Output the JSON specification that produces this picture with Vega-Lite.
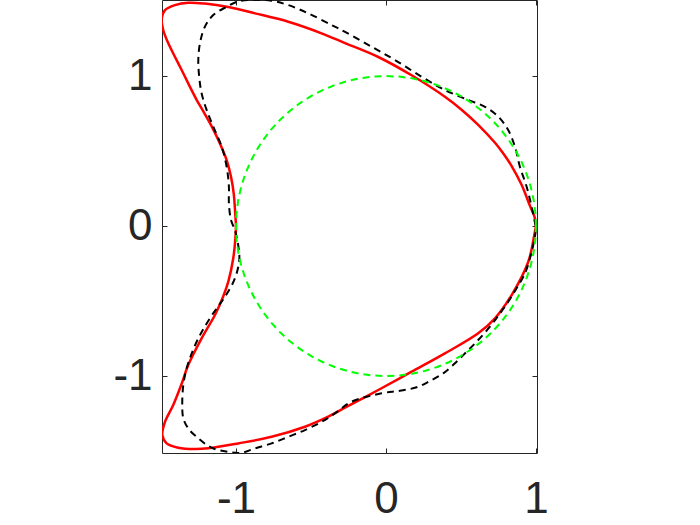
{
  "$schema": "https://vega.github.io/schema/vega-lite/v6.json",
  "width": 375,
  "height": 453,
  "autosize": {"type": "none"},
  "padding": {"left": 162, "top": 0, "right": 163, "bottom": 72},
  "background": "white",
  "config": {
    "view": {"stroke": null},
    "axis": {
      "domainColor": "#262626",
      "domainWidth": 1,
      "tickColor": "#262626",
      "tickWidth": 1,
      "tickSize": -5,
      "grid": false,
      "title": null,
      "labelFont": "Liberation Sans",
      "labelFontSize": 44,
      "labelColor": "#262626",
      "labelFlush": false,
      "labelOverlap": false
    }
  },
  "datasets": {
    "red": [
      {"i": 1, "x": 1.0, "y": 0.0}, {"i": 2, "x": 0.991, "y": 0.06}, {"i": 3, "x": 0.96, "y": 0.135}, {"i": 4, "x": 0.905, "y": 0.273},
      {"i": 5, "x": 0.838, "y": 0.4}, {"i": 6, "x": 0.78, "y": 0.487}, {"i": 7, "x": 0.727, "y": 0.555}, {"i": 8, "x": 0.615, "y": 0.675},
      {"i": 9, "x": 0.5, "y": 0.779}, {"i": 10, "x": 0.393, "y": 0.862}, {"i": 11, "x": 0.171, "y": 1.005}, {"i": 12, "x": -0.051, "y": 1.127},
      {"i": 13, "x": -0.273, "y": 1.22}, {"i": 14, "x": -0.429, "y": 1.285}, {"i": 15, "x": -0.651, "y": 1.362},
      {"i": 16, "x": -0.873, "y": 1.418}, {"i": 17, "x": -1.051, "y": 1.46}, {"i": 18, "x": -1.207, "y": 1.483},
      {"i": 19, "x": -1.318, "y": 1.489}, {"i": 20, "x": -1.407, "y": 1.473}, {"i": 21, "x": -1.473, "y": 1.44},
      {"i": 22, "x": -1.495, "y": 1.385}, {"i": 23, "x": -1.485, "y": 1.307}, {"i": 24, "x": -1.451, "y": 1.218},
      {"i": 25, "x": -1.407, "y": 1.129}, {"i": 26, "x": -1.362, "y": 1.04}, {"i": 27, "x": -1.318, "y": 0.951},
      {"i": 28, "x": -1.264, "y": 0.845}, {"i": 29, "x": -1.21, "y": 0.751}, {"i": 30, "x": -1.155, "y": 0.651},
      {"i": 31, "x": -1.1, "y": 0.535}, {"i": 32, "x": -1.062, "y": 0.44}, {"i": 33, "x": -1.033, "y": 0.329},
      {"i": 34, "x": -1.015, "y": 0.218}, {"i": 35, "x": -1.005, "y": 0.085}, {"i": 36, "x": -1.0, "y": 0.0},
      {"i": 37, "x": -1.003, "y": -0.07}, {"i": 38, "x": -1.018, "y": -0.215}, {"i": 39, "x": -1.051, "y": -0.371},
      {"i": 40, "x": -1.087, "y": -0.475}, {"i": 41, "x": -1.14, "y": -0.593}, {"i": 42, "x": -1.229, "y": -0.749},
      {"i": 43, "x": -1.318, "y": -0.927}, {"i": 44, "x": -1.365, "y": -1.06}, {"i": 45, "x": -1.418, "y": -1.193},
      {"i": 46, "x": -1.473, "y": -1.305}, {"i": 47, "x": -1.491, "y": -1.393}, {"i": 48, "x": -1.462, "y": -1.449},
      {"i": 49, "x": -1.385, "y": -1.478}, {"i": 50, "x": -1.273, "y": -1.487}, {"i": 51, "x": -1.185, "y": -1.482},
      {"i": 52, "x": -0.985, "y": -1.449}, {"i": 53, "x": -0.762, "y": -1.405}, {"i": 54, "x": -0.54, "y": -1.338},
      {"i": 55, "x": -0.385, "y": -1.271}, {"i": 56, "x": -0.273, "y": -1.211}, {"i": 57, "x": -0.051, "y": -1.093},
      {"i": 58, "x": 0.171, "y": -0.971}, {"i": 59, "x": 0.393, "y": -0.849}, {"i": 60, "x": 0.615, "y": -0.715},
      {"i": 61, "x": 0.727, "y": -0.615}, {"i": 62, "x": 0.838, "y": -0.46}, {"i": 63, "x": 0.949, "y": -0.238},
      {"i": 64, "x": 0.989, "y": -0.06}, {"i": 65, "x": 1.0, "y": 0.0}
    ],
    "black": [
      {"i": 1, "x": 0.998, "y": 0.0}, {"i": 2, "x": 0.971, "y": 0.129}, {"i": 3, "x": 0.938, "y": 0.262},
      {"i": 4, "x": 0.893, "y": 0.395}, {"i": 5, "x": 0.86, "y": 0.529}, {"i": 6, "x": 0.815, "y": 0.64},
      {"i": 7, "x": 0.749, "y": 0.729}, {"i": 8, "x": 0.66, "y": 0.795}, {"i": 9, "x": 0.549, "y": 0.84},
      {"i": 10, "x": 0.393, "y": 0.907}, {"i": 11, "x": 0.238, "y": 0.995}, {"i": 12, "x": 0.06, "y": 1.107},
      {"i": 13, "x": -0.095, "y": 1.195}, {"i": 14, "x": -0.273, "y": 1.295}, {"i": 15, "x": -0.362, "y": 1.34},
      {"i": 16, "x": -0.518, "y": 1.418}, {"i": 17, "x": -0.651, "y": 1.473}, {"i": 18, "x": -0.762, "y": 1.502},
      {"i": 19, "x": -0.918, "y": 1.507}, {"i": 20, "x": -0.995, "y": 1.495}, {"i": 21, "x": -1.062, "y": 1.462},
      {"i": 22, "x": -1.151, "y": 1.407}, {"i": 23, "x": -1.207, "y": 1.329}, {"i": 24, "x": -1.24, "y": 1.218},
      {"i": 25, "x": -1.251, "y": 1.107}, {"i": 26, "x": -1.245, "y": 0.995}, {"i": 27, "x": -1.229, "y": 0.885},
      {"i": 28, "x": -1.195, "y": 0.773}, {"i": 29, "x": -1.151, "y": 0.662}, {"i": 30, "x": -1.095, "y": 0.529},
      {"i": 31, "x": -1.062, "y": 0.395}, {"i": 32, "x": -1.047, "y": 0.262}, {"i": 33, "x": -1.047, "y": 0.151},
      {"i": 34, "x": -1.033, "y": 0.04}, {"i": 35, "x": -1.007, "y": -0.027}, {"i": 36, "x": -0.985, "y": -0.127},
      {"i": 37, "x": -0.978, "y": -0.227}, {"i": 38, "x": -1.007, "y": -0.349}, {"i": 39, "x": -1.073, "y": -0.471},
      {"i": 40, "x": -1.129, "y": -0.549}, {"i": 41, "x": -1.195, "y": -0.649}, {"i": 42, "x": -1.251, "y": -0.749},
      {"i": 43, "x": -1.295, "y": -0.849}, {"i": 44, "x": -1.329, "y": -0.949}, {"i": 45, "x": -1.351, "y": -1.06},
      {"i": 46, "x": -1.358, "y": -1.193}, {"i": 47, "x": -1.351, "y": -1.282}, {"i": 48, "x": -1.318, "y": -1.349},
      {"i": 49, "x": -1.251, "y": -1.415}, {"i": 50, "x": -1.162, "y": -1.478}, {"i": 51, "x": -1.051, "y": -1.505},
      {"i": 52, "x": -0.962, "y": -1.511}, {"i": 53, "x": -0.873, "y": -1.482}, {"i": 54, "x": -0.762, "y": -1.449},
      {"i": 55, "x": -0.651, "y": -1.405}, {"i": 56, "x": -0.54, "y": -1.36}, {"i": 57, "x": -0.429, "y": -1.305},
      {"i": 58, "x": -0.34, "y": -1.249}, {"i": 59, "x": -0.229, "y": -1.171}, {"i": 60, "x": -0.029, "y": -1.115},
      {"i": 61, "x": 0.093, "y": -1.098}, {"i": 62, "x": 0.205, "y": -1.075}, {"i": 63, "x": 0.293, "y": -1.033},
      {"i": 64, "x": 0.382, "y": -0.982}, {"i": 65, "x": 0.46, "y": -0.915}, {"i": 66, "x": 0.538, "y": -0.838},
      {"i": 67, "x": 0.615, "y": -0.76}, {"i": 68, "x": 0.693, "y": -0.671}, {"i": 69, "x": 0.76, "y": -0.582},
      {"i": 70, "x": 0.815, "y": -0.505}, {"i": 71, "x": 0.871, "y": -0.415}, {"i": 72, "x": 0.927, "y": -0.315},
      {"i": 73, "x": 0.96, "y": -0.215}, {"i": 74, "x": 0.982, "y": -0.127}, {"i": 75, "x": 0.998, "y": -0.038},
      {"i": 76, "x": 0.998, "y": 0.0}
    ],
    "green": [
      {"i": 1, "x": 1.0, "y": 0.0}, {"i": 2, "x": 0.9962, "y": 0.0872}, {"i": 3, "x": 0.9848, "y": 0.1736},
      {"i": 4, "x": 0.9659, "y": 0.2588}, {"i": 5, "x": 0.9397, "y": 0.342}, {"i": 6, "x": 0.9063, "y": 0.4226},
      {"i": 7, "x": 0.866, "y": 0.5}, {"i": 8, "x": 0.8192, "y": 0.5736}, {"i": 9, "x": 0.766, "y": 0.6428},
      {"i": 10, "x": 0.7071, "y": 0.7071}, {"i": 11, "x": 0.6428, "y": 0.766}, {"i": 12, "x": 0.5736, "y": 0.8192},
      {"i": 13, "x": 0.5, "y": 0.866}, {"i": 14, "x": 0.4226, "y": 0.9063}, {"i": 15, "x": 0.342, "y": 0.9397},
      {"i": 16, "x": 0.2588, "y": 0.9659}, {"i": 17, "x": 0.1736, "y": 0.9848}, {"i": 18, "x": 0.0872, "y": 0.9962},
      {"i": 19, "x": 0.0, "y": 1.0}, {"i": 20, "x": -0.0872, "y": 0.9962}, {"i": 21, "x": -0.1736, "y": 0.9848},
      {"i": 22, "x": -0.2588, "y": 0.9659}, {"i": 23, "x": -0.342, "y": 0.9397}, {"i": 24, "x": -0.4226, "y": 0.9063},
      {"i": 25, "x": -0.5, "y": 0.866}, {"i": 26, "x": -0.5736, "y": 0.8192}, {"i": 27, "x": -0.6428, "y": 0.766},
      {"i": 28, "x": -0.7071, "y": 0.7071}, {"i": 29, "x": -0.766, "y": 0.6428}, {"i": 30, "x": -0.8192, "y": 0.5736},
      {"i": 31, "x": -0.866, "y": 0.5}, {"i": 32, "x": -0.9063, "y": 0.4226}, {"i": 33, "x": -0.9397, "y": 0.342},
      {"i": 34, "x": -0.9659, "y": 0.2588}, {"i": 35, "x": -0.9848, "y": 0.1736}, {"i": 36, "x": -0.9962, "y": 0.0872},
      {"i": 37, "x": -1.0, "y": 0.0}, {"i": 38, "x": -0.9962, "y": -0.0872}, {"i": 39, "x": -0.9848, "y": -0.1736},
      {"i": 40, "x": -0.9659, "y": -0.2588}, {"i": 41, "x": -0.9397, "y": -0.342}, {"i": 42, "x": -0.9063, "y": -0.4226},
      {"i": 43, "x": -0.866, "y": -0.5}, {"i": 44, "x": -0.8192, "y": -0.5736}, {"i": 45, "x": -0.766, "y": -0.6428},
      {"i": 46, "x": -0.7071, "y": -0.7071}, {"i": 47, "x": -0.6428, "y": -0.766}, {"i": 48, "x": -0.5736, "y": -0.8192},
      {"i": 49, "x": -0.5, "y": -0.866}, {"i": 50, "x": -0.4226, "y": -0.9063}, {"i": 51, "x": -0.342, "y": -0.9397},
      {"i": 52, "x": -0.2588, "y": -0.9659}, {"i": 53, "x": -0.1736, "y": -0.9848}, {"i": 54, "x": -0.0872, "y": -0.9962},
      {"i": 55, "x": 0.0, "y": -1.0}, {"i": 56, "x": 0.0872, "y": -0.9962}, {"i": 57, "x": 0.1736, "y": -0.9848},
      {"i": 58, "x": 0.2588, "y": -0.9659}, {"i": 59, "x": 0.342, "y": -0.9397}, {"i": 60, "x": 0.4226, "y": -0.9063},
      {"i": 61, "x": 0.5, "y": -0.866}, {"i": 62, "x": 0.5736, "y": -0.8192}, {"i": 63, "x": 0.6428, "y": -0.766},
      {"i": 64, "x": 0.7071, "y": -0.7071}, {"i": 65, "x": 0.766, "y": -0.6428}, {"i": 66, "x": 0.8192, "y": -0.5736},
      {"i": 67, "x": 0.866, "y": -0.5}, {"i": 68, "x": 0.9063, "y": -0.4226}, {"i": 69, "x": 0.9397, "y": -0.342},
      {"i": 70, "x": 0.9659, "y": -0.2588}, {"i": 71, "x": 0.9848, "y": -0.1736}, {"i": 72, "x": 0.9962, "y": -0.0872},
      {"i": 73, "x": 1.0, "y": 0.0}
    ]
  },
  "resolve": {"axis": {"x": "independent", "y": "independent"}},
  "layer": [
    {
      "data": {"name": "red"},
      "mark": {"type": "line", "color": "#FF0000", "strokeWidth": 2.5, "interpolate": "catmull-rom", "clip": true},
      "encoding": {
        "x": {"field": "x", "type": "quantitative", "scale": {"domain": [-1.493, 1.007], "nice": false, "zero": false},
              "axis": {"orient": "bottom", "values": [-1, 0, 1], "labelPadding": 29, "labelExpr": "datum.value < 0 ? '-' + abs(datum.value) : '' + datum.value"}},
        "y": {"field": "y", "type": "quantitative", "scale": {"domain": [-1.513, 1.507], "nice": false, "zero": false},
              "axis": {"orient": "left", "values": [-1, 0, 1], "labelPadding": 15, "labelExpr": "datum.value < 0 ? '-' + abs(datum.value) : '' + datum.value"}},
        "order": {"field": "i", "type": "quantitative"}
      }
    },
    {
      "data": {"name": "black"},
      "mark": {"type": "line", "color": "#000000", "strokeWidth": 2, "strokeDash": [7, 5], "interpolate": "catmull-rom", "clip": true},
      "encoding": {
        "x": {"field": "x", "type": "quantitative", "axis": {"orient": "top", "values": [-1, 0, 1], "labels": false}},
        "y": {"field": "y", "type": "quantitative", "axis": {"orient": "right", "values": [-1, 0, 1], "labels": false}},
        "order": {"field": "i", "type": "quantitative"}
      }
    },
    {
      "data": {"name": "green"},
      "mark": {"type": "line", "color": "#00FF00", "strokeWidth": 2, "strokeDash": [7, 5], "clip": true},
      "encoding": {
        "x": {"field": "x", "type": "quantitative", "axis": null},
        "y": {"field": "y", "type": "quantitative", "axis": null},
        "order": {"field": "i", "type": "quantitative"}
      }
    }
  ]
}
